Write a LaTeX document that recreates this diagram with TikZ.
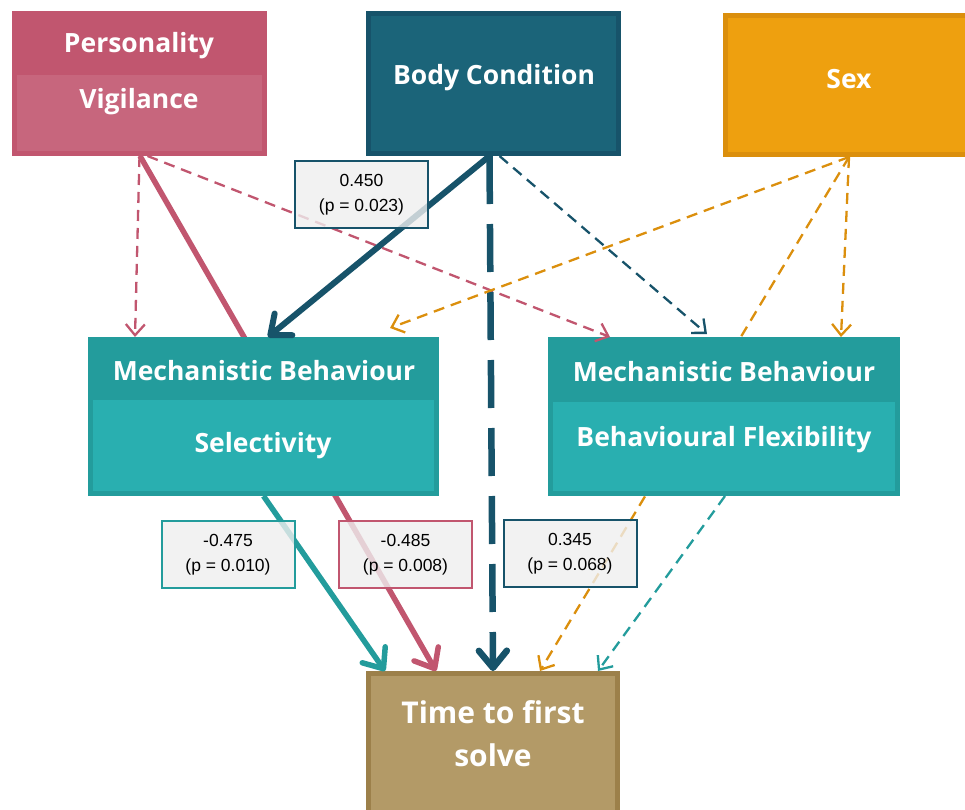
\documentclass[tikz,border=0pt]{standalone}
\usepackage{fontspec}
\setmainfont{Open Sans}
\newfontfamily\numfont{Liberation Sans}
\usetikzlibrary{arrows.meta,backgrounds}
\definecolor{pinkD}{HTML}{C1566F}
\definecolor{pinkL}{HTML}{C7667D}
\definecolor{blueD}{HTML}{17536A}
\definecolor{blueM}{HTML}{1B6479}
\definecolor{orangeD}{HTML}{DB8F0D}
\definecolor{orangeM}{HTML}{EEA00F}
\definecolor{tealD}{HTML}{239C9C}
\definecolor{tealL}{HTML}{29AFB0}
\definecolor{goldD}{HTML}{9C804A}
\definecolor{goldM}{HTML}{B39A67}
\definecolor{labfill}{HTML}{EFEFEF}

\begin{document}
\begin{tikzpicture}[x=1pt,y=-1pt]
\tikzset{box/.style={rectangle, inner sep=0pt, line width=5pt}}
\tikzset{inbox/.style={rectangle, inner sep=0pt}}
\tikzset{title/.style={text=white, inner sep=0pt, font=\bfseries\fontsize{26.5}{30}\selectfont, align=center}}
\tikzset{coef/.style={rectangle, line width=2pt, fill=labfill, fill opacity=0.8, text opacity=1, minimum width=133pt, minimum height=67pt, align=center, font=\numfont\fontsize{17.5}{25}\selectfont}}
\tikzset{weak/.style={line width=2.3pt, dash pattern=on 11pt off 7pt, -{Straight Barb[length=11pt,width=19pt]}}}
\tikzset{strong/.style={line width=5.5pt, -{Straight Barb[length=17pt,width=28pt,round]}}}

\useasboundingbox (0,0) rectangle (965,809);
\clip (0,0) rectangle (965,809);

\node[box, draw=pinkD, fill=pinkD, minimum width=250pt, minimum height=140pt] (pers) at (139.5,83.5) {};
\node[inbox, fill=pinkL, minimum width=245pt, minimum height=76pt] (persin) at (139.5,113) {};
\node[title] (perst) at (139,46) {Personality};
\node[title] (persv) at (139,102) {Vigilance};

\node[box, draw=blueD, fill=blueM, minimum width=250pt, minimum height=140pt] (body) at (493.5,83.5) {};
\node[title] (bodyt) at (494,78) {Body Condition};

\node[box, draw=orangeD, fill=orangeM, minimum width=247pt, minimum height=139pt] (sex) at (849,85) {};
\node[title] (sext) at (849,79) {Sex};

\node[box, draw=tealD, fill=tealD, minimum width=346pt, minimum height=154pt] (sel) at (263.5,416.5) {};
\node[inbox, fill=tealL, minimum width=341pt, minimum height=91pt] (selin) at (263.5,445.5) {};
\node[title] (selh) at (264,371) {Mechanistic Behaviour};
\node[title] (selt) at (263,446) {Selectivity};

\node[box, draw=tealD, fill=tealD, minimum width=347pt, minimum height=154pt] (flex) at (724,416.5) {};
\node[inbox, fill=tealL, minimum width=342pt, minimum height=89pt] (flexin) at (724,446.5) {};
\node[title] (flexh) at (724,372) {Mechanistic Behaviour};
\node[title] (flext) at (724,440) {Behavioural Flexibility};

\node[box, draw=goldD, fill=goldM, minimum width=249pt, minimum height=144pt] (time) at (493,745.5) {};
\node[title, font=\bfseries\fontsize{30}{43}\selectfont] (timet) at (493,733.5) {Time to first\\solve};

\begin{scope}[on background layer]
\draw[strong, pinkD] ([xshift=0.5pt]pers.south) -- ([xshift=-57pt]time.north);
\draw[weak, orangeD] (sex.south) -- ([xshift=47pt]time.north);
\end{scope}

\draw[weak, pinkD] (pers.south) -- ([xshift=-128.5pt]sel.north);
\draw[weak, pinkD] ([xshift=8pt]pers.south) -- ([xshift=-114pt]flex.north);
\draw[strong, blueD, line width=6pt] ([xshift=-4pt]body.south) -- ([xshift=4.5pt]sel.north);
\draw[strong, blueD, line width=6.5pt, dash pattern=on 48pt off 20pt] ([xshift=-4pt]body.south) -- (time.north);
\draw[weak, blueD] ([xshift=6pt]body.south) -- ([xshift=-17pt,yshift=3pt]flex.north);
\draw[weak, orangeD] (sex.south) -- ([xshift=126.5pt,yshift=9pt]sel.north);
\draw[weak, orangeD] (sex.south) -- ([xshift=117pt]flex.north);
\draw[strong, tealD] (sel.south) -- ([xshift=-108pt]time.north);
\draw[weak, tealD] ([xshift=1pt]flex.south) -- ([xshift=105pt]time.north);

\node[coef, draw=blueD] (c1) at (361.5,194.5) {0.450\\(p = 0.023)};
\node[coef, draw=tealD] (c2) at (228,554.5) {-0.475\\(p = 0.010)};
\node[coef, draw=pinkD] (c3) at (405.5,554.5) {-0.485\\(p = 0.008)};
\node[coef, draw=blueD] (c4) at (570,553.5) {0.345\\(p = 0.068)};
\end{tikzpicture}
\end{document}
